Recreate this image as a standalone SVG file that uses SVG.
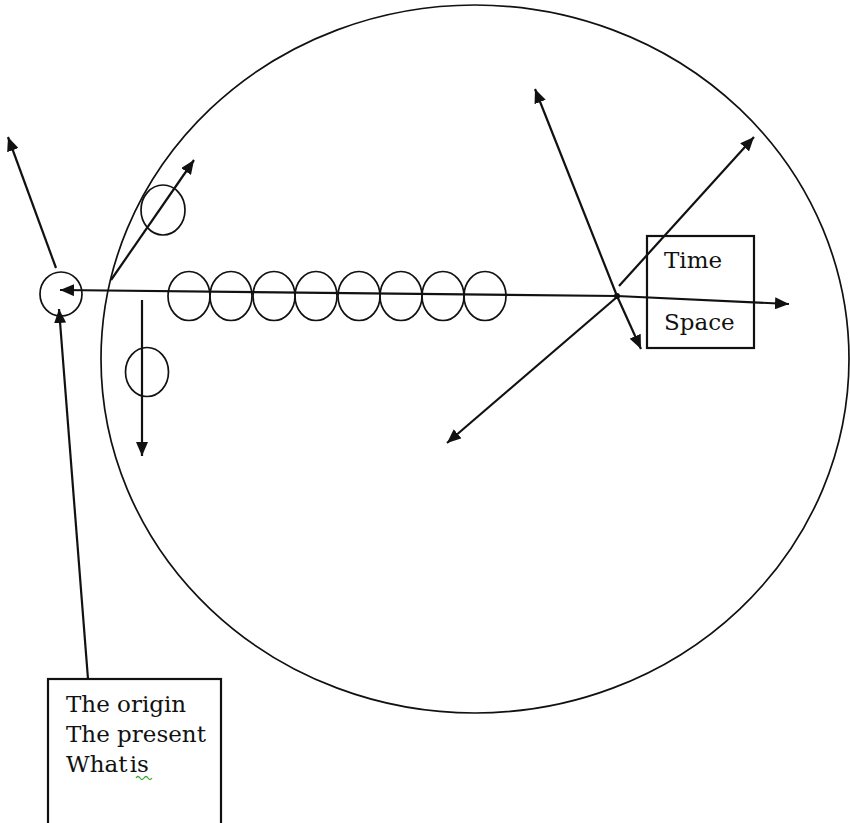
<svg xmlns="http://www.w3.org/2000/svg" width="850" height="823" viewBox="0 0 850 823">
<style>
.ring{fill:none;stroke:#111;stroke-width:1.7}
.ln{fill:none;stroke:#111;stroke-width:2.2}
.box{fill:#fff;stroke:#111;stroke-width:2.2}
.txt{font-family:"DejaVu Serif","Liberation Serif",serif;font-size:23px;fill:#111}
</style>
<defs>
<marker id="ah" markerUnits="userSpaceOnUse" markerWidth="14" markerHeight="12" refX="14" refY="6" orient="auto">
<path d="M0,0 L14,6 L0,12 z" fill="#111"/>
</marker>
</defs>
<rect width="850" height="823" fill="#fff"/>
<g id="universe"><ellipse class="ring" cx="475" cy="359" rx="374" ry="354"/></g>
<g id="origin-circle"><ellipse class="ring" cx="61" cy="294" rx="21" ry="22"/></g>
<g id="chain">
<ellipse class="ring" cx="189" cy="296" rx="21" ry="24.5"/>
<ellipse class="ring" cx="231" cy="296" rx="21" ry="24.5"/>
<ellipse class="ring" cx="274" cy="296" rx="21" ry="24.5"/>
<ellipse class="ring" cx="316" cy="296" rx="21" ry="24.5"/>
<ellipse class="ring" cx="359" cy="296" rx="21" ry="24.5"/>
<ellipse class="ring" cx="401" cy="296" rx="21" ry="24.5"/>
<ellipse class="ring" cx="443" cy="296" rx="21" ry="24.5"/>
<ellipse class="ring" cx="485" cy="296" rx="21" ry="24.5"/>
</g>
<g id="upper-circle"><ellipse class="ring" cx="163" cy="210" rx="22" ry="25"/></g>
<g id="lower-circle"><ellipse class="ring" cx="147" cy="372" rx="21.5" ry="24.5"/></g>
<g id="connectors">
<line class="ln" x1="617" y1="296" x2="60" y2="290" marker-end="url(#ah)"/>
<line class="ln" x1="617" y1="296" x2="789" y2="304" marker-end="url(#ah)"/>
<line class="ln" x1="56" y1="268" x2="8" y2="137" marker-end="url(#ah)"/>
<line class="ln" x1="111" y1="280" x2="194" y2="160" marker-end="url(#ah)"/>
<line class="ln" x1="142" y1="300" x2="142" y2="456" marker-end="url(#ah)"/>
<line class="ln" x1="88" y1="679" x2="59" y2="309" marker-end="url(#ah)"/>
<line class="ln" x1="617" y1="296" x2="535" y2="89" marker-end="url(#ah)"/>
<line class="ln" x1="617" y1="296" x2="641" y2="349" marker-end="url(#ah)"/>
<line class="ln" x1="619" y1="286" x2="754" y2="137" marker-end="url(#ah)"/>
<line class="ln" x1="617" y1="297" x2="447" y2="443" marker-end="url(#ah)"/>
<circle cx="617" cy="296" r="3" fill="#111"/>
</g>
<g id="time-space">
<rect x="647" y="236" width="107" height="112" fill="none" stroke="#111" stroke-width="2.2"/>
<text class="txt" x="664" y="268">Time</text>
<text class="txt" x="664" y="330">Space</text>
</g>
<g id="origin-box">
<rect class="box" x="48" y="679" width="173" height="150"/>
<text class="txt" x="66" y="712">The origin</text>
<text class="txt" x="66" y="742">The present</text>
<text class="txt" x="66" y="772" word-spacing="-5">What is</text>
<path d="M136,778 q2,-3 4,0 t4,0 t4,0 t4,0" fill="none" stroke="#3a3" stroke-width="1.3"/>
</g>
</svg>
